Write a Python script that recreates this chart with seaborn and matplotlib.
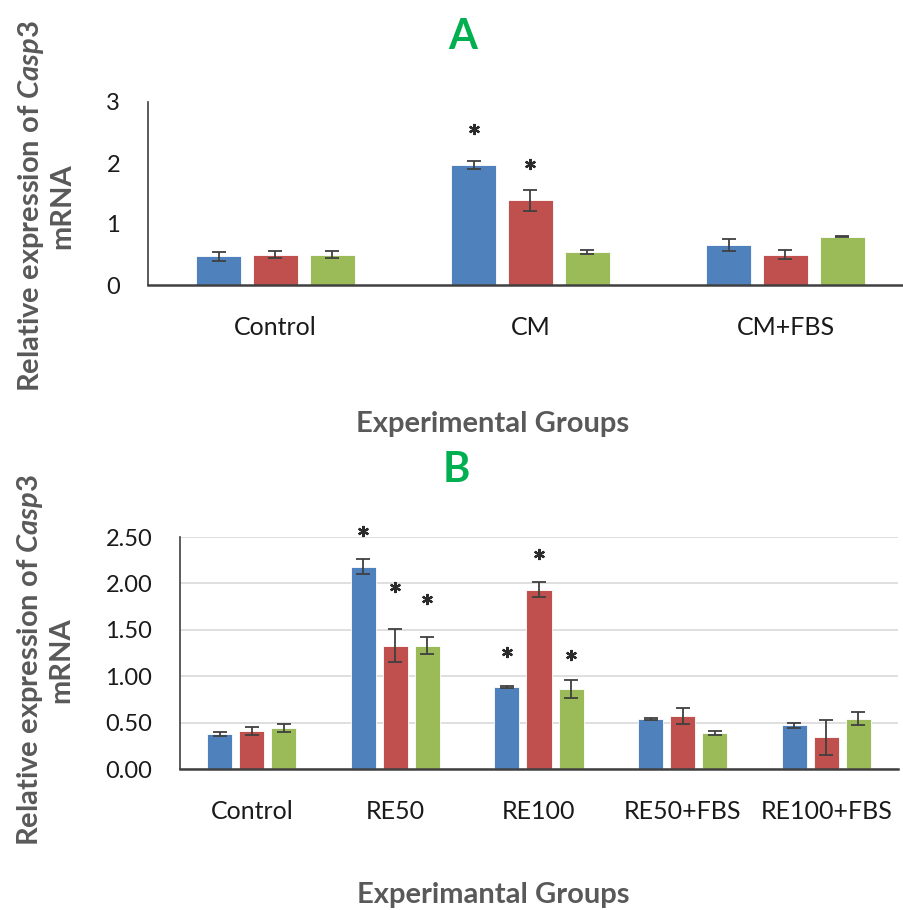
import numpy as np
import pandas as pd
import matplotlib
matplotlib.use('Agg')
import matplotlib.pyplot as plt
import seaborn as sns

# ---- data -------------------------------------------------------------
series = ['Series 1', 'Series 2', 'Series 3']

groups_a = ['Control', 'CM', 'CM+FBS']
mean_a = [[0.47, 1.97, 0.66],
          [0.50, 1.39, 0.50],
          [0.50, 0.54, 0.79]]
err_a = [[0.07, 0.07, 0.10],
         [0.06, 0.17, 0.07],
         [0.06, 0.03, 0.01]]
# asterisk heights (y value) per series/group, None = no mark
star_a = [[None, 2.56, None],
          [None, 1.99, None],
          [None, None, None]]

groups_b = ['Control', 'RE50', 'RE100', 'RE50+FBS', 'RE100+FBS']
mean_b = [[0.38, 2.18, 0.88, 0.54, 0.47],
          [0.41, 1.33, 1.93, 0.57, 0.34],
          [0.44, 1.33, 0.86, 0.39, 0.54]]
err_b = [[0.02, 0.08, 0.01, 0.01, 0.03],
         [0.04, 0.18, 0.08, 0.09, 0.19],
         [0.04, 0.09, 0.10, 0.02, 0.07]]
star_b = [[None, 2.56, 1.26, None, None],
          [None, 1.96, 2.32, None, None],
          [None, 1.83, 1.23, None, None]]

colors = ['#4F81BD', '#C0504D', '#9BBB59']
W, H = 904, 910


def long_df(groups, means):
    rows = []
    for s, vals in zip(series, means):
        for g, v in zip(groups, vals):
            rows.append({'group': g, 'series': s, 'value': v})
    return pd.DataFrame(rows)


def draw_panel(ax, groups, means, errs, stars, ylim, yticks, yfmt, grid):
    df = long_df(groups, means)
    sns.barplot(data=df, x='group', y='value', hue='series', order=groups,
                hue_order=series, palette=colors, width=0.67, gap=0.22,
                errorbar=None, legend=False, ax=ax, saturation=1,
                edgecolor='white', linewidth=0.6)
    bars = list(ax.containers)
    for i, cont in enumerate(bars):
        xs = [b.get_x() + b.get_width() / 2 for b in cont]
        ax.errorbar(xs, means[i], yerr=errs[i], fmt='none', ecolor='#404040',
                    elinewidth=1.3, capsize=5, capthick=1.3, zorder=4)
        sx = [x for x, sy in zip(xs, stars[i]) if sy is not None]
        sy = [sy for sy in stars[i] if sy is not None]
        if sx:
            ax.plot(sx, sy, linestyle='none', marker=(6, 2, 0), markersize=8,
                    markeredgewidth=1.6, color='#2b2b2b', zorder=5,
                    clip_on=False)
    ax.set_ylim(*ylim)
    ax.set_xlim(-0.5, len(groups) - 0.5)
    ax.set_yticks(yticks)
    ax.set_yticklabels([yfmt.format(t) for t in yticks])
    ax.set_xlabel('')
    ax.set_ylabel('')
    for s in ['top', 'right']:
        ax.spines[s].set_visible(False)
    ax.spines['left'].set_color('#404040')
    ax.spines['left'].set_linewidth(1.2)
    ax.spines['bottom'].set_color('#404040')
    ax.spines['bottom'].set_linewidth(1.8)
    ax.tick_params(axis='both', length=0, colors='#1a1a1a')
    ax.tick_params(axis='x', pad=22, labelsize=18)
    ax.tick_params(axis='y', pad=20, labelsize=17)
    if grid:
        ax.yaxis.grid(True, color='#D9D9D9', linewidth=1.2)
        ax.set_axisbelow(True)
    else:
        ax.yaxis.grid(False)
    ax.xaxis.grid(False)


sns.set_theme(style='white')
plt.rcParams['font.family'] = ['Lato', 'DejaVu Sans']
plt.rcParams['mathtext.fontset'] = 'custom'
plt.rcParams['mathtext.it'] = 'Lato:italic:bold'
plt.rcParams['mathtext.rm'] = 'Lato:bold'

fig = plt.figure(figsize=(W / 100, H / 100), dpi=100)

# panel A: plot area x 148..913, y 102..285 (pixels)
ax_a = fig.add_axes([148 / W, 1 - 285 / H, (913 - 148) / W, (285 - 102) / H])
draw_panel(ax_a, groups_a, mean_a, err_a, star_a, (0, 3), [0, 1, 2, 3],
           '{:.0f}', grid=False)

# panel B: plot area x 180..898, y 537..769
ax_b = fig.add_axes([180 / W, 1 - 769 / H, (898 - 180) / W, (769 - 537) / H])
draw_panel(ax_b, groups_b, mean_b, err_b, star_b, (0, 2.5),
           [0, 0.5, 1, 1.5, 2, 2.5], '{:.2f}', grid=True)

ylab = 'Relative expression of $\\mathit{Casp3}$\nmRNA'
ylab_kw = dict(fontsize=21, fontweight='bold', color='#595959', rotation=90,
               ha='center', va='center', multialignment='center',
               linespacing=1.15)
fig.text(46 / W, 1 - 206 / H, ylab, **ylab_kw)
fig.text(45 / W, 1 - 660 / H, ylab, **ylab_kw)

xlab_kw = dict(fontsize=21, fontweight='bold', color='#595959',
               ha='center', va='center')
fig.text(493 / W, 1 - 424 / H, 'Experimental Groups', **xlab_kw)
fig.text(493 / W, 1 - 895 / H, 'Experimantal Groups', **xlab_kw)

title_kw = dict(fontsize=30, fontweight='bold', color='#00B050',
                ha='center', va='center')
fig.text(463 / W, 1 - 37 / H, 'A', **title_kw)
fig.text(456 / W, 1 - 470 / H, 'B', **title_kw)

fig.savefig('out.png', dpi=100, facecolor='white')
